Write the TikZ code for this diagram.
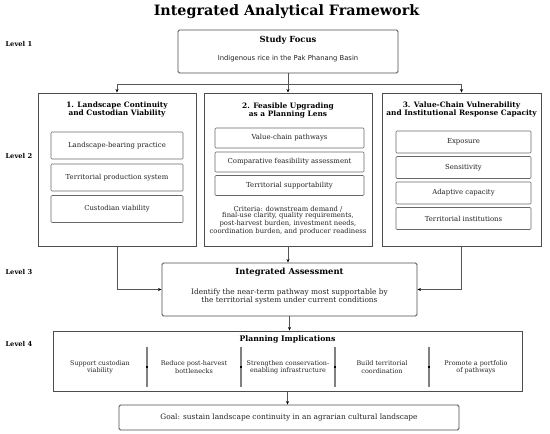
\documentclass[tikz,border=0pt]{standalone}
\usepackage{fontspec}
\setmainfont{DejaVu Serif}
\newfontfamily\plainsans{DejaVu Sans}
\usetikzlibrary{arrows.meta}
\usetikzlibrary{positioning}
\definecolor{edgegray}{HTML}{4D4D4D}
\definecolor{linegray}{HTML}{555555}
\definecolor{inkgray}{HTML}{222222}
\tikzset{frame/.style = {draw=edgegray, line width=0.9pt, inner sep=0}}
\tikzset{softframe/.style = {frame, rounded corners=1.5pt}}
\tikzset{item/.style = {draw=edgegray!85, line width=0.7pt, rounded corners=1pt,
                        font=\fontsize{6.9}{8}\selectfont, text=inkgray}}
\tikzset{heading/.style = {font=\bfseries\fontsize{8.4}{9.5}\selectfont, text=black}}
\tikzset{subhead/.style = {font=\bfseries\fontsize{7.4}{8}\selectfont, align=center, text=black}}
\tikzset{body/.style = {font=\fontsize{7}{7.5}\selectfont, align=center, text=inkgray}}
\tikzset{level/.style = {font=\bfseries\fontsize{6.7}{8}\selectfont, anchor=west}}
\tikzset{flow/.style = {draw=linegray, line width=0.8pt, -{Stealth[length=3.5pt,width=3pt,color=black]}}}
\tikzset{divider/.style = {draw=gray, line width=1.1pt}}

\begin{document}
\begin{tikzpicture}[x=1pt, y=-1pt]
      \useasboundingbox (0, 0) rectangle (550, 434);

      \node [font=\bfseries\fontsize{14.3}{16}\selectfont] (title) at (286.5, 12) {Integrated Analytical Framework};

      % levels
      \node [level] (lv1) at (2, 44) {Level 1};
      \node [level] (lv2) at (2, 156) {Level 2};
      \node [level] (lv3) at (2, 272) {Level 3};
      \node [level] (lv4) at (2, 344) {Level 4};

      % level 1
      \node [softframe, minimum width=220, minimum height=43] (focus) at (288, 51.5) {};
      \node [heading] (focust) at (288, 40.5) {Study Focus};
      \node [font=\plainsans\fontsize{6.8}{8}\selectfont, text=inkgray] (focusb) at (288, 59) {Indigenous rice in the Pak Phanang Basin};

      % level 2
      \node [frame, minimum width=158, minimum height=153] (land) at (117, 169.5) {};
      \node [frame, minimum width=168, minimum height=153] (lens) at (288, 169.5) {};
      \node [frame, minimum width=159, minimum height=153] (vuln) at (461.5, 169.5) {};

      \node [subhead] (landt) at (117, 110) {1. Landscape Continuity\\and Custodian Viability};
      \node [subhead] (lenst) at (288, 110.5) {2. Feasible Upgrading\\as a Planning Lens};
      \node [subhead] (vulnt) at (461.5, 110) {3. Value-Chain Vulnerability\\and Institutional Response Capacity};

      \node [item, minimum width=132, minimum height=27] (land1) at (117, 145.5) {Landscape-bearing practice};
      \node [item, minimum width=132, minimum height=27] (land2) at (117, 177.5) {Territorial production system};
      \node [item, minimum width=132, minimum height=27] (land3) at (117, 209) {Custodian viability};

      \node [item, minimum width=149, minimum height=20] (lens1) at (289.5, 138) {Value-chain pathways};
      \node [item, minimum width=149, minimum height=20] (lens2) at (289.5, 162) {Comparative feasibility assessment};
      \node [item, minimum width=149, minimum height=20] (lens3) at (289.5, 185.5) {Territorial supportability};
      \node [body, font=\fontsize{6.8}{6.5}\selectfont] (lensc) at (288, 220.5) {Criteria: downstream demand /\\final-use clarity, quality requirements,\\post-harvest burden, investment needs,\\coordination burden, and producer readiness};

      \node [item, minimum width=135, minimum height=22] (vuln1) at (463.5, 142) {Exposure};
      \node [item, minimum width=135, minimum height=22] (vuln2) at (463.5, 167.5) {Sensitivity};
      \node [item, minimum width=135, minimum height=22] (vuln3) at (463.5, 193) {Adaptive capacity};
      \node [item, minimum width=135, minimum height=22] (vuln4) at (463.5, 218.5) {Territorial institutions};

      \coordinate (split) at (288, 84);
      \draw [draw=linegray, line width=0.8pt] (focus.south) -- (split);
      \draw [flow] (split) -| (land.north);
      \draw [flow] (split) -| (vuln.north);
      \draw [flow] (split) -- (split -| lens.north) -- (lens.north);

      % level 3
      \node [softframe, minimum width=255, minimum height=53] (assess) at (289.5, 289.5) {};
      \node [heading] (assesst) at (289.5, 272) {Integrated Assessment};
      \node [body, font=\fontsize{7.4}{7.3}\selectfont] (assessb) at (289.5, 296.5) {Identify the near-term pathway most supportable by\\the territorial system under current conditions};

      \draw [flow] (land.south) |- (assess.west);
      \draw [flow] (vuln.south) |- (assess.east);
      \draw [flow] (lens.south) -- (lens.south |- assess.north);

      % level 4
      \node [frame, minimum width=469, minimum height=60] (plan) at (287.5, 361) {};
      \node [heading, font=\bfseries\fontsize{7.7}{9}\selectfont] (plant) at (287.5, 339.5) {Planning Implications};
      \draw [flow] (assess.south) -- (assess.south |- plan.north);

      \node [body, font=\fontsize{6.4}{7.3}\selectfont] (imp1) at (100, 367) {Support custodian\\viability};
      \node [body, font=\fontsize{6.4}{7.3}\selectfont] (imp2) at (194, 367) {Reduce post-harvest\\bottlenecks};
      \node [body, font=\fontsize{6.4}{7.3}\selectfont] (imp3) at (288, 367) {Strengthen conservation-\\enabling infrastructure};
      \node [body, font=\fontsize{6.4}{7.3}\selectfont] (imp4) at (382, 367) {Build territorial\\coordination};
      \node [body, font=\fontsize{6.4}{7.3}\selectfont] (imp5) at (476, 367) {Promote a portfolio\\of pathways};

      \foreach \x in {147, 241, 335, 429} {
        \draw [divider] (\x, 347) -- (\x, 387);
        \fill [black] (\x - 1, 366) rectangle (\x + 1, 368);
      }

      \node [softframe, minimum width=340, minimum height=25] (goal) at (289, 417.5) {};
      \node [body, font=\fontsize{7.4}{8}\selectfont] (goalt) at (289, 417.5) {Goal: sustain landscape continuity in an agrarian cultural landscape};
      \draw [flow] (plan.south) -- (plan.south |- goal.north);
\end{tikzpicture}
\end{document}
